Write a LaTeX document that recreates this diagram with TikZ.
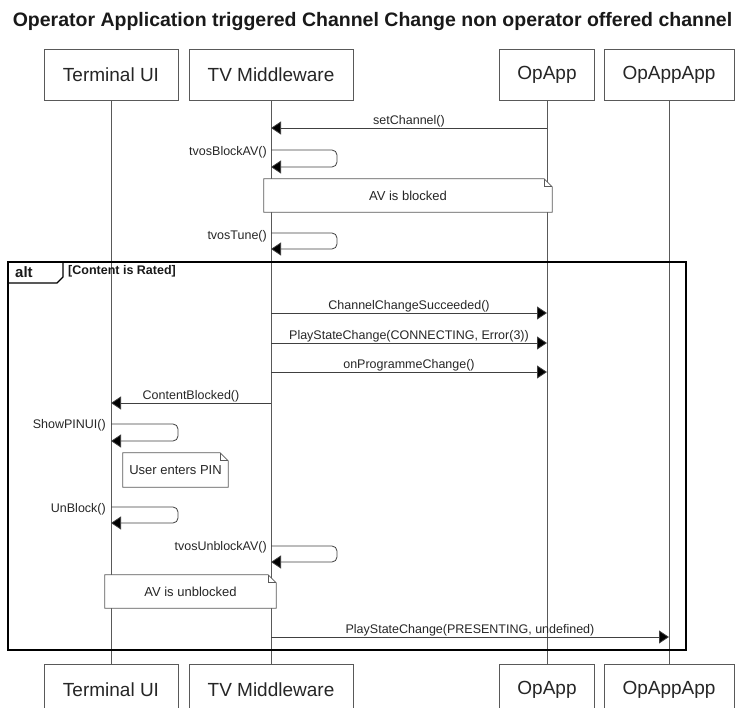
\documentclass[tikz,border=0pt]{standalone}
\usepackage{fontspec}
\setmainfont{Liberation Sans}
\usetikzlibrary{arrows.meta}
\begin{document}
\begin{tikzpicture}[x=1pt,y=-1pt,
  part/.style={draw=black!65, line width=0.8pt, fill=white, minimum height=51pt, inner sep=0pt, text=black!85, font=\fontsize{19}{22}\selectfont},
  life/.style={draw=black!65, line width=0.8pt},
  msg/.style={draw=black!75, line width=0.8pt, -{Triangle[length=10pt,width=13pt,fill=black]}},
  selfmsg/.style={msg, rounded corners=5pt},
  lbl/.style={inner sep=0pt, text=black!85, font=\fontsize{12.5}{14}\selectfont},
  notebox/.style={inner sep=0pt, text=black!85, font=\fontsize{13}{15}\selectfont},
  noteline/.style={draw=black!65, line width=0.8pt, fill=white},
  frameline/.style={draw=black, line width=1.6pt}
]
\useasboundingbox (0,0) rectangle (737,708);

% title
\node[anchor=base, inner sep=0pt, text=black!90, font=\bfseries\fontsize{19.5}{22}\selectfont] (title) at (372.5,27) {Operator Application triggered Channel Change non operator offered channel};

% participants
\node[part, minimum width=134pt] (tuT) at (111,74.5) {Terminal UI};
\node[part, minimum width=164pt] (tvT) at (271,74.5) {TV Middleware};
\node[part, minimum width=95pt]  (opT) at (547,74.5) {OpApp};
\node[part, minimum width=130pt] (oaT) at (669,74.5) {OpAppApp};
\node[part, minimum width=134pt] (tuB) at (111,689.5) {Terminal UI};
\node[part, minimum width=164pt] (tvB) at (271,689.5) {TV Middleware};
\node[part, minimum width=95pt]  (opB) at (547,689.5) {OpApp};
\node[part, minimum width=130pt] (oaB) at (669,689.5) {OpAppApp};

% lifelines
\draw[life] (tuT.south) -- (tuB.north);
\draw[life] (tvT.south) -- (tvB.north);
\draw[life] (opT.south) -- (opB.north);
\draw[life] (oaT.south) -- (oaB.north);

% helper rows
\coordinate (r1) at (0,128);
\coordinate (r2a) at (0,150); \coordinate (r2b) at (0,167);
\coordinate (r3a) at (0,233); \coordinate (r3b) at (0,249);
\coordinate (r4) at (0,313);
\coordinate (r5) at (0,343);
\coordinate (r6) at (0,372);
\coordinate (r7) at (0,403);
\coordinate (r8a) at (0,424); \coordinate (r8b) at (0,441);
\coordinate (r9a) at (0,507); \coordinate (r9b) at (0,523);
\coordinate (r10a) at (0,546); \coordinate (r10b) at (0,562);
\coordinate (r11) at (0,637);

% setChannel
\draw[msg] (opT |- r1) -- node[lbl, midway, above=1pt] {setChannel()} (tvT |- r1);
% tvosBlockAV
\draw[selfmsg] (tvT |- r2a) -- ++(66,0) -- ++(0,17) -- (tvT |- r2b);
\node[lbl, anchor=east] (l2) at (267,152) {tvosBlockAV()};
% note AV is blocked
\node[notebox, minimum width=288pt, minimum height=33pt] (n1) at (408,195.5) {};
\draw[noteline] (n1.south west) -- (n1.north west) -- ([xshift=-8pt]n1.north east) -- ([yshift=-8pt]n1.north east) -- (n1.south east) -- cycle;
\draw[noteline, fill=none] ([xshift=-8pt]n1.north east) -- ([xshift=-8pt,yshift=-8pt]n1.north east) -- ([yshift=-8pt]n1.north east);
\node[notebox] at (n1.center) {AV is blocked};
% tvosTune
\draw[selfmsg] (tvT |- r3a) -- ++(66,0) -- ++(0,16) -- (tvT |- r3b);
\node[lbl, anchor=east] (l3) at (267,236) {tvosTune()};

% alt frame
\draw[frameline] (8,262) rectangle (686,650);
\draw[frameline, line width=1.2pt] (8,283) -- (57,283) -- (63,277) -- (63,262);
\node[anchor=base west, inner sep=0pt, text=black!90, font=\bfseries\fontsize{15}{17}\selectfont] (alt) at (15,278) {alt};
\node[anchor=base west, inner sep=0pt, text=black!90, font=\bfseries\fontsize{12.5}{14}\selectfont] (cond) at (68,275) {[Content is Rated]};

% messages in alt
\draw[msg] (tvT |- r4) -- node[lbl, midway, above=1pt] {ChannelChangeSucceeded()} (opT |- r4);
\draw[msg] (tvT |- r5) -- node[lbl, midway, above=1pt] {PlayStateChange(CONNECTING, Error(3))} (opT |- r5);
\draw[msg] (tvT |- r6) -- node[lbl, midway, above=1pt] {onProgrammeChange()} (opT |- r6);
\draw[msg] (tvT |- r7) -- node[lbl, midway, above=1pt] {ContentBlocked()} (tuT |- r7);
% ShowPINUI
\draw[selfmsg] (tuT |- r8a) -- ++(67,0) -- ++(0,17) -- (tuT |- r8b);
\node[lbl, anchor=east] (l8) at (106,425) {ShowPINUI()};
% note User enters PIN
\node[notebox, minimum width=105pt, minimum height=34pt] (n2) at (175.5,470) {};
\draw[noteline] (n2.south west) -- (n2.north west) -- ([xshift=-8pt]n2.north east) -- ([yshift=-8pt]n2.north east) -- (n2.south east) -- cycle;
\draw[noteline, fill=none] ([xshift=-8pt]n2.north east) -- ([xshift=-8pt,yshift=-8pt]n2.north east) -- ([yshift=-8pt]n2.north east);
\node[notebox] at (n2.center) {User enters PIN};
% UnBlock
\draw[selfmsg] (tuT |- r9a) -- ++(67,0) -- ++(0,16) -- (tuT |- r9b);
\node[lbl, anchor=east] (l9) at (106,509) {UnBlock()};
% tvosUnblockAV
\draw[selfmsg] (tvT |- r10a) -- ++(66,0) -- ++(0,16) -- (tvT |- r10b);
\node[lbl, anchor=east] (l10) at (267,547) {tvosUnblockAV()};
% note AV is unblocked
\node[notebox, minimum width=171pt, minimum height=33pt] (n3) at (190.5,591.5) {};
\draw[noteline] (n3.south west) -- (n3.north west) -- ([xshift=-8pt]n3.north east) -- ([yshift=-8pt]n3.north east) -- (n3.south east) -- cycle;
\draw[noteline, fill=none] ([xshift=-8pt]n3.north east) -- ([xshift=-8pt,yshift=-8pt]n3.north east) -- ([yshift=-8pt]n3.north east);
\node[notebox] at (n3.center) {AV is unblocked};
% PlayStateChange presenting
\draw[msg] (tvT |- r11) -- node[lbl, midway, above=1pt] {PlayStateChange(PRESENTING, undefined)} (oaT |- r11);
\end{tikzpicture}
\end{document}
